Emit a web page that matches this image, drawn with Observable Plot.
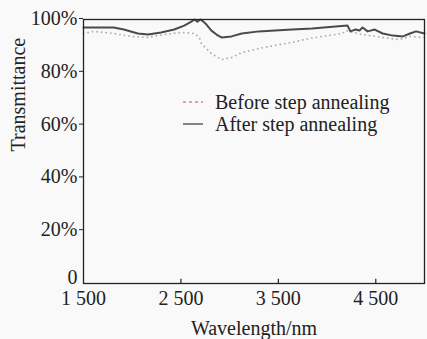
<!DOCTYPE html>
<html>
<head>
<meta charset="utf-8">
<script src="https://cdn.jsdelivr.net/npm/d3@7"></script>
<script src="https://cdn.jsdelivr.net/npm/@observablehq/plot@0.6"></script>
<style>
  html, body { margin: 0; padding: 0; background: #f9f9f9; }
  #wrap { position: relative; width: 427px; height: 339px; overflow: hidden; font-family: "Liberation Serif", "Times New Roman", serif; color: #222; }
  #legend { position: absolute; left: 182px; top: 91px; font-size: 20px; line-height: 22px; }
  #legend div { display: flex; align-items: center; white-space: nowrap; }
  #legend svg { margin-right: 11px; }
</style>
</head>
<body>
<div id="wrap">
  <div id="chart"></div>
  <div id="legend"></div>
</div>
<script>
const seriesNames = ["Before step annealing", "After step annealing"];
const xTicks = [1500, 2500, 3500, 4500];
const yTicks = [0, 20, 40, 60, 80, 100];
const xLabel = "Wavelength/nm";
const yLabel = "Transmittance";

// After step annealing (solid)
const afterWl = [1500, 1810, 1914, 2058, 2162, 2296, 2431, 2534, 2607, 2638, 2669, 2700, 2731, 2762, 2813, 2865, 2917, 3020, 3124, 3299, 3465, 3641, 3847, 4209, 4240, 4261, 4292, 4333, 4364, 4416, 4489, 4571, 4675, 4778, 4851, 4913, 5000];
const afterT  = [97.0, 97.0, 96.2, 94.7, 94.3, 95.1, 96.2, 97.7, 99.2, 100, 99.2, 100, 99.2, 98.1, 95.8, 94.3, 93.2, 93.6, 94.7, 95.5, 95.8, 96.2, 96.6, 97.7, 95.5, 95.8, 96.2, 95.8, 97.0, 95.5, 96.2, 94.7, 93.9, 93.6, 94.7, 95.5, 94.7];

// Before step annealing (dotted)
const beforeWl = [1500, 1603, 1810, 1986, 2162, 2327, 2503, 2638, 2689, 2710, 2813, 2917, 3020, 3124, 3299, 3465, 3641, 3816, 3951, 4158, 4189, 4364, 4499, 4644, 4747, 4851, 4964, 5000];
const beforeT  = [94.7, 95.5, 94.7, 93.6, 93.2, 94.3, 95.1, 94.7, 93.2, 90.9, 87.1, 84.8, 85.6, 87.5, 89.0, 90.2, 91.3, 92.8, 93.6, 94.7, 95.8, 94.3, 93.6, 92.8, 92.4, 93.6, 93.2, 93.2];

const after = afterWl.map((w, i) => ({w, t: afterT[i]}));
const before = beforeWl.map((w, i) => ({w, t: beforeT[i]}));

const fmtX = d => d3.format(",")(d).replace(/,/g, " ");
const fmtY = d => d === 0 ? "0" : d + "%";

const plot = Plot.plot({
  width: 427,
  height: 339,
  marginLeft: 83,
  marginRight: 3,
  marginTop: 19,
  marginBottom: 56,
  style: {background: "transparent", fontFamily: "Liberation Serif, serif", fontSize: "20px", color: "#222"},
  x: {domain: [1500, 5000]},
  y: {domain: [0, 100]},
  marks: [
    Plot.line(before, {x: "w", y: "t", stroke: "#acacac", strokeWidth: 1.8, strokeDasharray: "0.1 4.5", strokeLinecap: "round"}),
    Plot.line(after, {x: "w", y: "t", stroke: "#4a4a4a", strokeWidth: 2, curve: "linear"}),
    Plot.frame({stroke: "#222", strokeWidth: 1.3}),
    Plot.ruleX(xTicks.slice(1), {x: d => d, y1: 0, y2: 1.6, stroke: "#222", strokeWidth: 1.2}),
    Plot.axisX({ticks: xTicks, tickFormat: fmtX, tickSize: 0, tickPadding: 7, label: null, fontSize: 20}),
    Plot.axisY({ticks: yTicks.slice(1), tickFormat: fmtY, tickSize: 4, tickPadding: 2, label: null, fontSize: 20, dy: -1}),
    Plot.axisY({ticks: yTicks.slice(0, 1), tickFormat: fmtY, tickSize: 0, tickPadding: 6, label: null, fontSize: 20, dy: -6}),
    Plot.text([xLabel], {text: d => d, frameAnchor: "bottom", dy: 51, fontSize: 20, fill: "#222"}),
    Plot.text([yLabel], {text: d => d, frameAnchor: "left", dx: -65, rotate: -90, fontSize: 20, fill: "#222"})
  ]
});
document.getElementById("chart").appendChild(plot);

const legendStyles = [
  {stroke: "#d98a6c", dash: "3 3", width: 1.5},
  {stroke: "#777", dash: null, width: 1.8}
];
const legend = document.getElementById("legend");
seriesNames.forEach((name, i) => {
  const s = legendStyles[i];
  const row = document.createElement("div");
  row.innerHTML = `<svg width="22" height="10"><line x1="1" x2="21" y1="5" y2="5" stroke="${s.stroke}" stroke-width="${s.width}" ${s.dash ? `stroke-dasharray="${s.dash}"` : ""}/></svg><span>${name}</span>`;
  legend.appendChild(row);
});
</script>
</body>
</html>
